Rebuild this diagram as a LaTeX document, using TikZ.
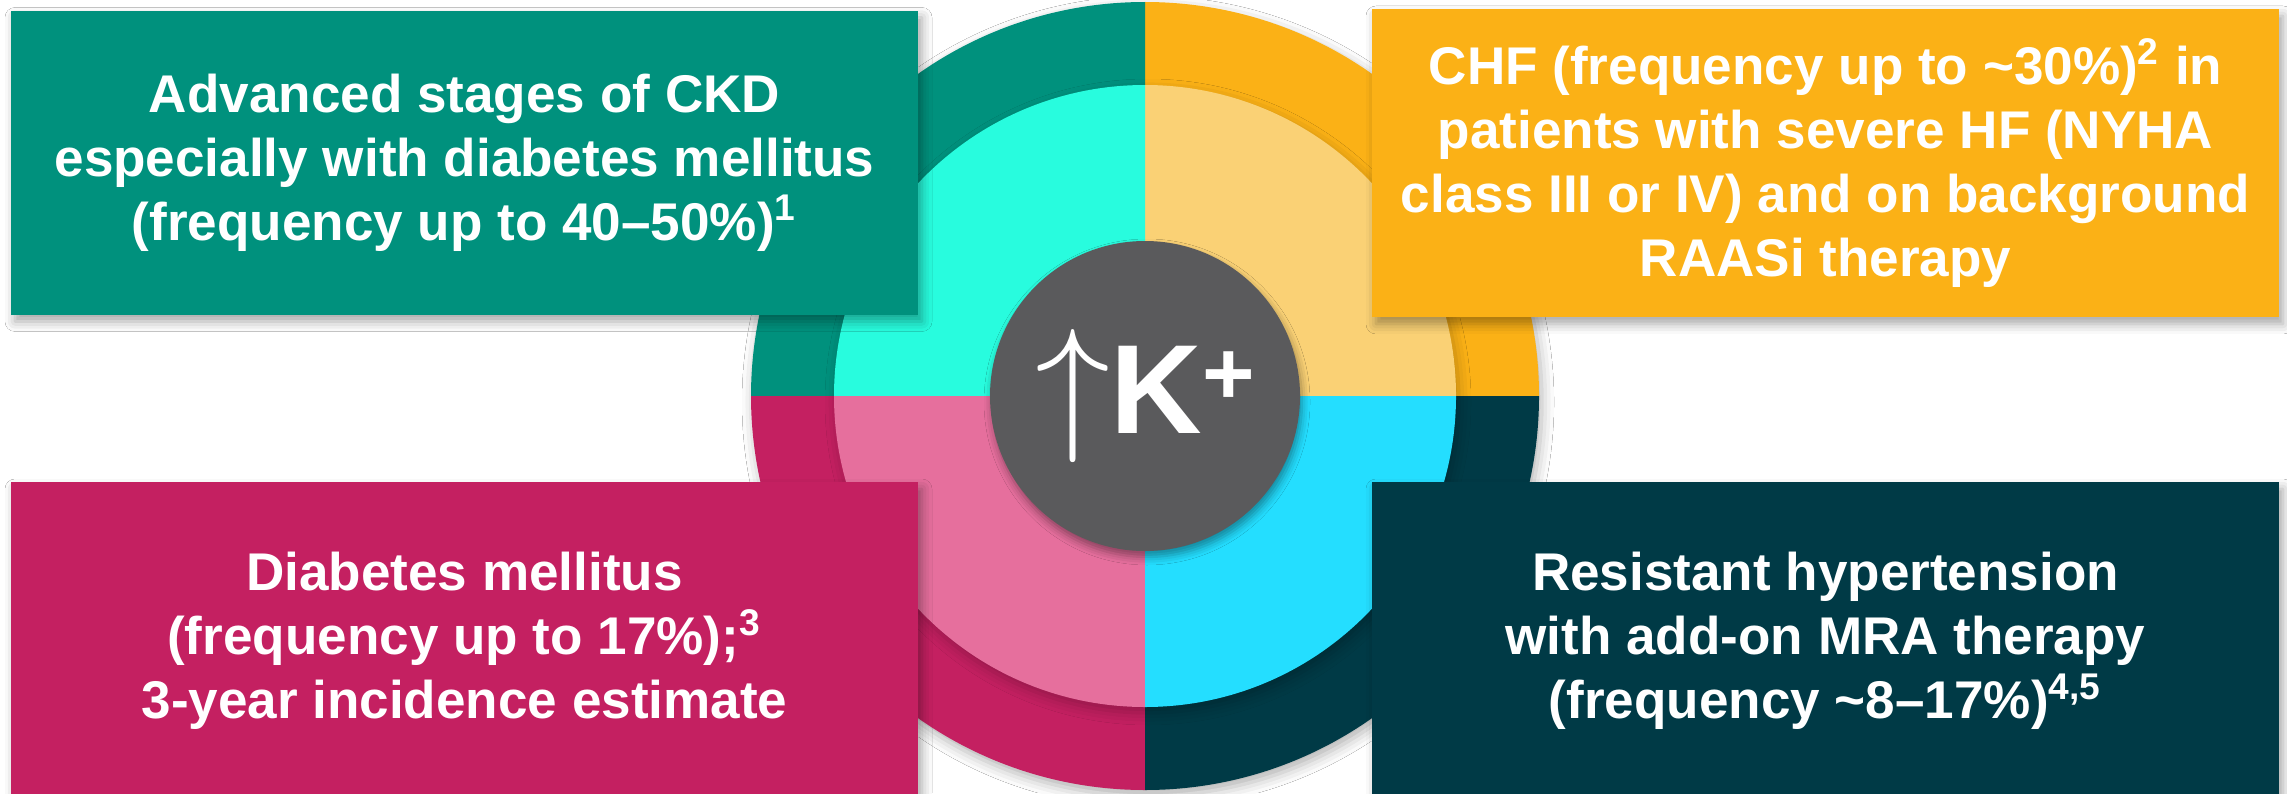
\RequirePackage{fix-cm}
\documentclass[tikz,border=0pt]{standalone}
\usepackage{fontspec}
\setmainfont{Liberation Sans}
\usetikzlibrary{positioning, shadows.blur}

\definecolor{ckdgreen}{RGB}{0,145,125}
\definecolor{ckdlight}{RGB}{40,252,222}
\definecolor{chforange}{RGB}{251,177,22}
\definecolor{chflight}{RGB}{250,209,117}
\definecolor{dmmagenta}{RGB}{196,32,97}
\definecolor{dmpink}{RGB}{230,111,157}
\definecolor{rhteal}{RGB}{0,58,70}
\definecolor{rhcyan}{RGB}{36,222,255}
\definecolor{hubgrey}{RGB}{90,90,92}

\begin{document}
\begin{tikzpicture}[
    infobox/.style={rectangle, text=white, inner sep=0pt, align=center, minimum width=9.07cm,
        font=\fontsize{15.1pt}{18.2pt}\selectfont\bfseries,
        blur shadow={shadow xshift=0.04cm, shadow yshift=-0.07cm, shadow blur radius=0.1cm, shadow opacity=35}},
    hub/.style={circle, fill=hubgrey, text=white, minimum size=3.1cm, inner sep=0pt,
        blur shadow={shadow xshift=0.02cm, shadow yshift=-0.06cm, shadow blur radius=0.08cm, shadow opacity=40}},
    ringshadow/.style={blur shadow={shadow xshift=0.03cm, shadow yshift=-0.06cm, shadow blur radius=0.12cm, shadow opacity=#1}}
]
\useasboundingbox (0,0) rectangle (22.87,7.93);
\fill[white] (0,0) rectangle (22.87,7.93);
\coordinate (c) at (11.45,3.97);

% outer ring, then the lighter inner disc, a quarter per colour
\path[ringshadow=30] (c) circle (3.94);
\foreach \a/\col in {0/chforange, 90/ckdgreen, 180/dmmagenta, 270/rhteal}
    \fill[\col] (c) -- ++(\a:3.94) arc[start angle=\a, delta angle=90, radius=3.94] -- cycle;
\path[ringshadow=25] (c) circle (3.11);
\foreach \a/\col in {0/chflight, 90/ckdlight, 180/dmpink, 270/rhcyan}
    \fill[\col] (c) -- ++(\a:3.11) arc[start angle=\a, delta angle=90, radius=3.11] -- cycle;

\node[hub] (k) at (c) {{\fontsize{42.7pt}{44pt}\selectfont$\uparrow$}{\fontsize{36.1pt}{38pt}\selectfont\bfseries K}\raisebox{8.2pt}{\fontsize{25.6pt}{27pt}\selectfont\bfseries +}};

\node[infobox, fill=ckdgreen, minimum height=3.04cm] (ckd) at (4.645,6.305)
    {Advanced stages of CKD\\ especially with diabetes mellitus\\ (frequency up to 40--50\%)\textsuperscript{1}};
\node[infobox, fill=chforange, minimum height=3.08cm] (chf) at (18.255,6.30)
    {CHF (frequency up to \textasciitilde30\%)\textsuperscript{2} in\\ patients with severe HF (NYHA\\ class III or IV) and on background\\ RAASi therapy};
\node[infobox, fill=dmmagenta, minimum height=3.18cm] (dm) at (4.645,1.52)
    {Diabetes mellitus\\ (frequency up to 17\%);\textsuperscript{3}\\ 3-year incidence estimate};
\node[infobox, fill=rhteal, minimum height=3.18cm] (rh) at (18.255,1.52)
    {Resistant hypertension\\ with add-on MRA therapy\\ (frequency \textasciitilde8--17\%)\textsuperscript{4,5}};
\end{tikzpicture}
\end{document}
